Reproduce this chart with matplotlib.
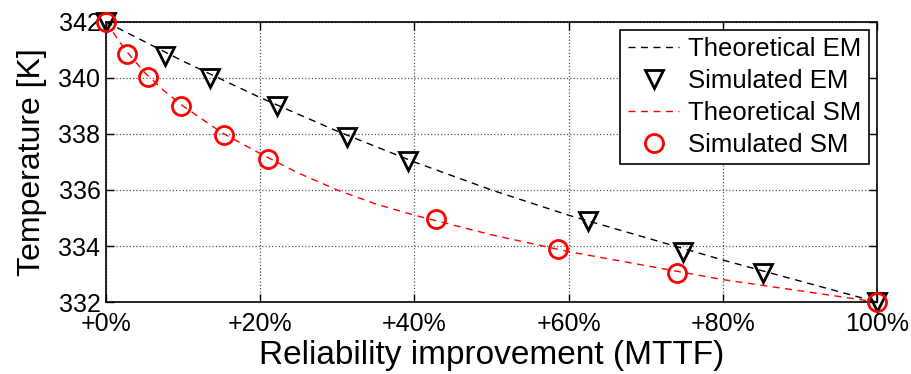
import matplotlib
matplotlib.use('Agg')
import matplotlib.pyplot as plt

plt.rcParams['font.family'] = ['Liberation Sans', 'DejaVu Sans']

# Theoretical curves
theo_x = [0, 2.5, 5, 7.5, 10, 15, 20, 25, 30, 35, 40, 50, 60, 70, 80, 90, 100]
theo_em = [342, 341.65, 341.3, 340.95, 340.6, 339.95, 339.3, 338.7, 338.1, 337.55, 337.0,
           336.0, 335.1, 334.3, 333.5, 332.75, 332.0]
theo_sm = [342, 341.0, 340.2, 339.55, 339.0, 338.05, 337.3, 336.6, 336.0, 335.5, 335.1,
           334.4, 333.8, 333.3, 332.8, 332.4, 332.0]

# Simulated points
sim_em_x = [0, 7.7, 13.5, 22.2, 31.3, 39.2, 62.5, 74.8, 85.2, 100]
sim_em_y = [342, 340.8, 340.0, 339.0, 337.9, 337.05, 334.9, 333.8, 333.05, 332]
sim_sm_x = [0, 2.7, 5.4, 9.7, 15.3, 21.0, 42.8, 58.6, 74.1, 100]
sim_sm_y = [342, 340.85, 340.05, 339.0, 337.95, 337.1, 334.95, 333.9, 333.05, 332]

xticks = [0, 20, 40, 60, 80, 100]
xtick_labels = ['+0%', '+20%', '+40%', '+60%', '+80%', '100%']
yticks = [332, 334, 336, 338, 340, 342]

fig = plt.figure(figsize=(9.12, 3.74), dpi=100)
ax = fig.add_axes([0.1162, 0.1925, 0.8454, 0.7487])

ax.plot(theo_x, theo_em, '--', color='black', lw=1.0, dashes=(5, 4), label='Theoretical EM')
ax.plot(sim_em_x, sim_em_y, 'v', color='black', mfc='none', ms=13, mew=2,
        clip_on=False, zorder=5, label='Simulated EM')
ax.plot(theo_x, theo_sm, '--', color='red', lw=1.0, dashes=(5, 4), label='Theoretical SM')
ax.plot(sim_sm_x, sim_sm_y, 'o', color='red', mfc='none', ms=13, mew=2,
        clip_on=False, zorder=6, label='Simulated SM')

ax.set_xlim(0, 100)
ax.set_ylim(332, 342)
ax.set_xticks(xticks)
ax.set_xticklabels(xtick_labels)
ax.set_yticks(yticks)
ax.tick_params(direction='in', top=True, right=True, labelsize=18, length=6, width=1)
ax.tick_params(axis='x', pad=7)
ax.tick_params(axis='y', pad=4)
ax.grid(True, linestyle=':', color='#555555', lw=0.9)
for s in ax.spines.values():
    s.set_linewidth(1.2)

ax.set_xlabel('Reliability improvement (MTTF)', fontsize=24, labelpad=3)
ax.set_ylabel('Temperature [K]', fontsize=23, labelpad=8)

leg = ax.legend(loc='upper right', fontsize=18.5, fancybox=False, framealpha=1,
                edgecolor='black', handlelength=2.0, borderaxespad=0.3,
                labelspacing=0.3, handletextpad=0.35, borderpad=0.3)
leg.get_frame().set_linewidth(1.2)

plt.savefig('out.png', dpi=100)
